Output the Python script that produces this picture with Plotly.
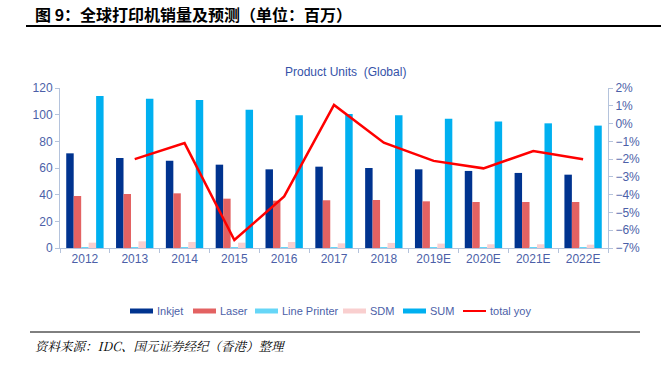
import plotly.graph_objects as go

categories = ["2012", "2013", "2014", "2015", "2016", "2017", "2018", "2019E", "2020E", "2021E", "2022E"]
inkjet = [71, 67.5, 65.5, 62.5, 59, 61, 60, 59, 57.8, 56.3, 55]
laser = [39, 40.5, 41, 37, 35.5, 35.8, 36, 35, 34.5, 34.5, 34.5]
line_printer = [0.4, 0.4, 0.4, 0.3, 0.3, 0.3, 0.3, 0.3, 0.3, 0.3, 0.3]
sdm = [4, 5, 4.5, 4, 4.5, 3.5, 3.8, 3.3, 2.8, 2.8, 2.5]
total = [114, 112, 111, 103.7, 99.5, 100.5, 99.5, 97, 94.8, 93.5, 91.8]
yoy_cats = categories[1:]
total_yoy = [-2.0, -1.1, -6.55, -4.1, 1.05, -1.08, -2.1, -2.52, -1.55, -2.01]

bar_names = ["Inkjet", "Laser", "Line Printer", "SDM", "SUM"]
bar_colors = ["#00338F", "#E36262", "#66D6F7", "#F9CFCF", "#00B0F0"]
line_color = "#FF0000"
tick_color = "#4C5FA8"
axis_color = "#B4C3DC"

fig = go.Figure()
for name, vals, col in zip(bar_names, [inkjet, laser, line_printer, sdm, total], bar_colors):
    fig.add_trace(go.Bar(x=categories, y=vals, name=name, marker=dict(color=col, line=dict(width=0)),
                         showlegend=False))
fig.add_trace(go.Scatter(x=yoy_cats, y=total_yoy, name="total yoy", mode="lines",
                         line=dict(color=line_color, width=2.5), yaxis="y2", showlegend=False))

fig.update_layout(
    width=661, height=366,
    margin=dict(l=60, r=53, t=88, b=118),
    paper_bgcolor="white", plot_bgcolor="white",
    barmode="group", bargap=0.25, bargroupgap=0,
    font=dict(family="Liberation Sans, Arial", size=12, color=tick_color),
    xaxis=dict(type="category", tickson="boundaries", ticks="outside", ticklen=4,
               tickcolor=axis_color, showline=True, linecolor=axis_color, linewidth=1,
               showgrid=False, tickfont=dict(size=12, color=tick_color)),
    yaxis=dict(range=[0, 120], dtick=20, ticks="outside", ticklen=4, tickcolor=axis_color,
               showline=True, linecolor=axis_color, linewidth=1, showgrid=False, zeroline=False,
               tickfont=dict(size=12, color=tick_color)),
    yaxis2=dict(range=[-7, 2], dtick=1, ticksuffix="%", overlaying="y", side="right",
                ticks="outside", ticklen=4, tickcolor=axis_color, showline=True,
                linecolor=axis_color, linewidth=1, showgrid=False, zeroline=False,
                tickfont=dict(size=12, color=tick_color)),
)

# title texts
fig.add_annotation(text="<b>图 9：全球打印机销量及预测（单位：百万）</b>", xref="paper", yref="paper",
                   x=(33-60)/548, y=1 + (88-14)/160, xanchor="left", yanchor="middle", showarrow=False,
                   font=dict(family="Noto Sans CJK SC", size=16, color="#000000"))
fig.add_annotation(text="Product Units  (Global)", xref="paper", yref="paper",
                   x=(345-60)/548, y=1 + (88-72)/160, xanchor="center", yanchor="middle", showarrow=False,
                   font=dict(family="Liberation Sans, Arial", size=12, color="#3552A8"))
fig.add_annotation(text="<i>资料来源：IDC、国元证券经纪（香港）整理</i>", xref="paper", yref="paper",
                   x=(33-60)/548, y=-(346-248)/160, xanchor="left", yanchor="middle", showarrow=False,
                   font=dict(family="Noto Serif CJK SC, Noto Sans CJK SC", size=12.5, color="#000000"))

# header / footer rules
fig.add_shape(type="line", xref="paper", yref="paper", x0=(26-60)/548, x1=(661-60)/548,
              y0=1 + (88-26)/160, y1=1 + (88-26)/160, line=dict(color="#000000", width=2))
fig.add_shape(type="line", xref="paper", yref="paper", x0=(30-60)/548, x1=(640-60)/548,
              y0=-(332-248)/160, y1=-(332-248)/160, line=dict(color="#000000", width=1))

# custom legend
legend_names = bar_names + ["total yoy"]
legend_colors = bar_colors + [line_color]
legend_x0 = [130, 193, 255, 343, 403, 463]
legend_y = -(311-248)/160
for i, (nm, col, lx) in enumerate(zip(legend_names, legend_colors, legend_x0)):
    w = 2 if nm == "total yoy" else 5
    fig.add_shape(type="line", xref="paper", yref="paper", x0=(lx-60)/548, x1=(lx+23-60)/548,
                  y0=legend_y, y1=legend_y, line=dict(color=col, width=w))
    fig.add_annotation(text=nm, xref="paper", yref="paper", x=(lx+25-60)/548, y=legend_y,
                       xanchor="left", yanchor="middle", showarrow=False,
                       font=dict(family="Liberation Sans, Arial", size=11, color=tick_color))

fig.write_html("out.html", config={"displayModeBar": False},
               post_script="document.body.style.margin='0';")
